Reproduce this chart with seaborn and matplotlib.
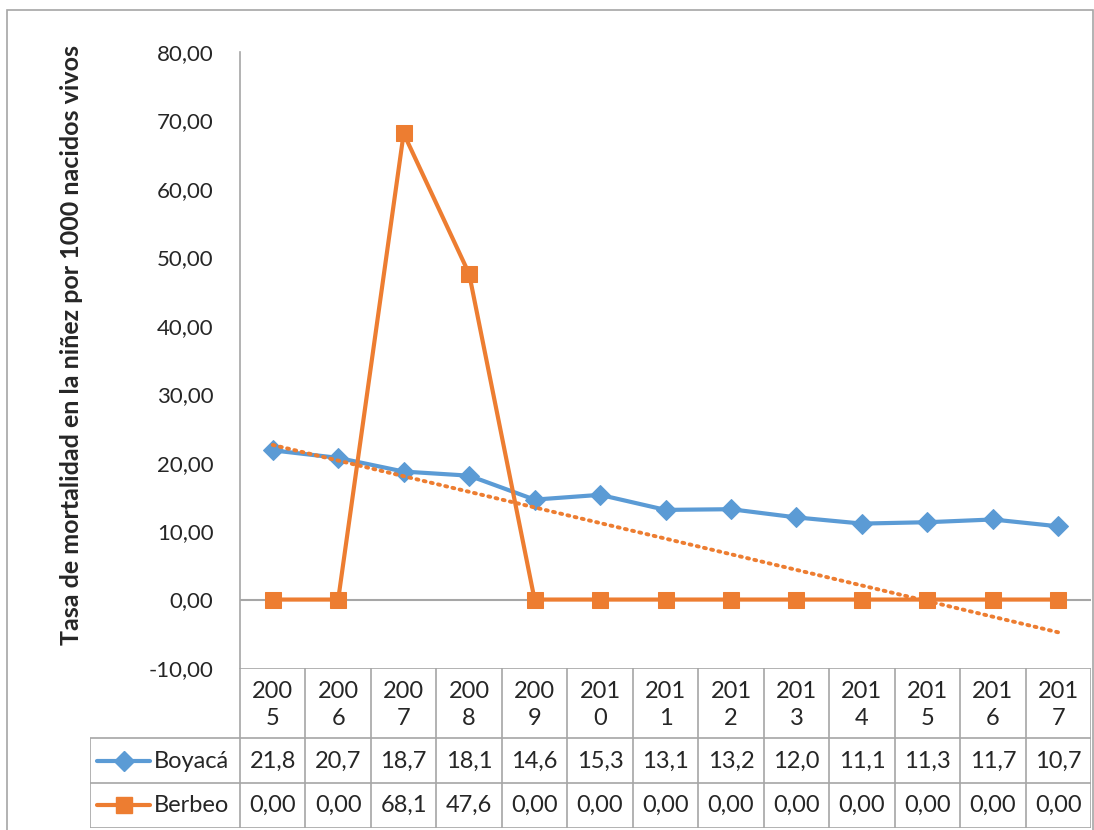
import numpy as np
import matplotlib
matplotlib.use("Agg")
import matplotlib.pyplot as plt
from matplotlib.patches import Rectangle
from matplotlib.lines import Line2D
import seaborn as sns

# ------------------------------------------------------------------
# Data
# ------------------------------------------------------------------
years = [2005, 2006, 2007, 2008, 2009, 2010, 2011, 2012, 2013, 2014, 2015, 2016, 2017]
boyaca = [21.8, 20.7, 18.7, 18.1, 14.6, 15.3, 13.1, 13.2, 12.0, 11.1, 11.3, 11.7, 10.7]
berbeo = [0.0, 0.0, 68.1, 47.6, 0.0, 0.0, 0.0, 0.0, 0.0, 0.0, 0.0, 0.0, 0.0]
boyaca_txt = ["21,8", "20,7", "18,7", "18,1", "14,6", "15,3", "13,1",
              "13,2", "12,0", "11,1", "11,3", "11,7", "10,7"]
berbeo_txt = ["0,00", "0,00", "68,1", "47,6", "0,00", "0,00", "0,00",
              "0,00", "0,00", "0,00", "0,00", "0,00", "0,00"]
y_ticks = [-10, 0, 10, 20, 30, 40, 50, 60, 70, 80]

BLUE = "#5B9BD5"
ORANGE = "#ED7D31"
GRID = "#A6A6A6"
FONT = ["Lato", "DejaVu Sans"]
TAB_FS = 17

sns.set_style("white")
plt.rcParams["font.family"] = FONT

W, H = 1094, 830
fig = plt.figure(figsize=(W / 100, H / 100), dpi=100)

def fx(px):
    return px / W

def fy(py):
    return 1 - py / H

# outer chart frame
fig.patches.append(Rectangle((fx(7), -0.05), fx(1093) - fx(7), fy(10) + 0.05,
                             transform=fig.transFigure, fill=False,
                             edgecolor=GRID, linewidth=1.2))

# ------------------------------------------------------------------
# Plot area
# ------------------------------------------------------------------
x_left, x_right, y_top, y_bot = 240, 1091, 52, 668
ax = fig.add_axes([fx(x_left), fy(y_bot), fx(x_right) - fx(x_left), fy(y_top) - fy(y_bot)])
idx = np.arange(len(years))

ax.axhline(0, color=GRID, linewidth=1.5, zorder=1)
sns.lineplot(x=idx, y=boyaca, ax=ax, color=BLUE, linewidth=3, marker="D",
             markersize=10, markeredgecolor=BLUE, zorder=3)
sns.lineplot(x=idx, y=berbeo, ax=ax, color=ORANGE, linewidth=3, marker="s",
             markersize=11.5, markeredgecolor=ORANGE, zorder=4)
# linear trend of Berbeo
sns.regplot(x=idx, y=np.array(berbeo), ax=ax, scatter=False, ci=None,
            line_kws=dict(color=ORANGE, linewidth=2.8, linestyle=(0, (0.5, 1.4)),
                          dash_capstyle="round", zorder=5))

ax.set_xlim(-0.5, len(years) - 0.5)
ax.set_ylim(-10, 80)
ax.set_yticks(y_ticks)
ax.set_yticklabels([f"{v:.2f}".replace(".", ",") for v in y_ticks], fontsize=16)
ax.tick_params(axis="y", length=0, pad=19)
ax.set_xticks([])
ax.set_xlabel("")
for s in ["top", "right", "bottom"]:
    ax.spines[s].set_visible(False)
ax.spines["left"].set_color(GRID)
ax.spines["left"].set_linewidth(1.2)
ax.set_ylabel("Tasa de mortalidad en la niñez por 1000 nacidos vivos",
              fontsize=18, fontweight="bold")
ax.yaxis.set_label_coords(-(x_left - 83) / (x_right - x_left), (y_bot - 345) / (y_bot - y_top))

# ------------------------------------------------------------------
# Data table
# ------------------------------------------------------------------
col_w = (x_right - x_left) / len(years)
leg_w = (x_left - 90) / col_w
tab = fig.add_axes([fx(90), fy(828), fx(x_right) - fx(90), fy(668) - fy(828)])
tab.set_xlim(-0.5 - leg_w, len(years) - 0.5)
tab.set_ylim(160, 0)
tab.axis("off")

lk = dict(color=GRID, linewidth=1.2, solid_capstyle="butt")
x0, x1 = -0.5, len(years) - 0.5
xl = -0.5 - leg_w
# horizontal lines
tab.add_line(Line2D([x0, x1], [0, 0], **lk))
tab.add_line(Line2D([xl, x1], [70, 70], **lk))
tab.add_line(Line2D([xl, x1], [115, 115], **lk))
tab.add_line(Line2D([xl, x1], [159.5, 159.5], **lk))
# vertical lines
tab.add_line(Line2D([xl, xl], [70, 159.5], **lk))
for i in range(len(years) + 1):
    tab.add_line(Line2D([i - 0.5, i - 0.5], [0, 159.5], **lk))

for i, yr in enumerate(years):
    s = str(yr)
    tab.text(i, 23, s[:3], ha="center", va="center", fontsize=TAB_FS)
    tab.text(i, 50, s[3:], ha="center", va="center", fontsize=TAB_FS)
    tab.text(i, 93, boyaca_txt[i], ha="center", va="center", fontsize=TAB_FS)
    tab.text(i, 137, berbeo_txt[i], ha="center", va="center", fontsize=TAB_FS)

# legend keys inside table
kx0 = xl + 7 / col_w
kx1 = xl + 60 / col_w
km = (kx0 + kx1) / 2
tab.add_line(Line2D([kx0, kx1], [93, 93], color=BLUE, linewidth=3))
tab.plot([km], [93], marker="D", color=BLUE, markersize=10)
tab.add_line(Line2D([kx0, kx1], [137, 137], color=ORANGE, linewidth=3))
tab.plot([km], [137], marker="s", color=ORANGE, markersize=11.5)
tab.text(xl + 64 / col_w, 93, "Boyacá", ha="left", va="center", fontsize=TAB_FS)
tab.text(xl + 64 / col_w, 137, "Berbeo", ha="left", va="center", fontsize=TAB_FS)

fig.savefig("out.png", dpi=100)
